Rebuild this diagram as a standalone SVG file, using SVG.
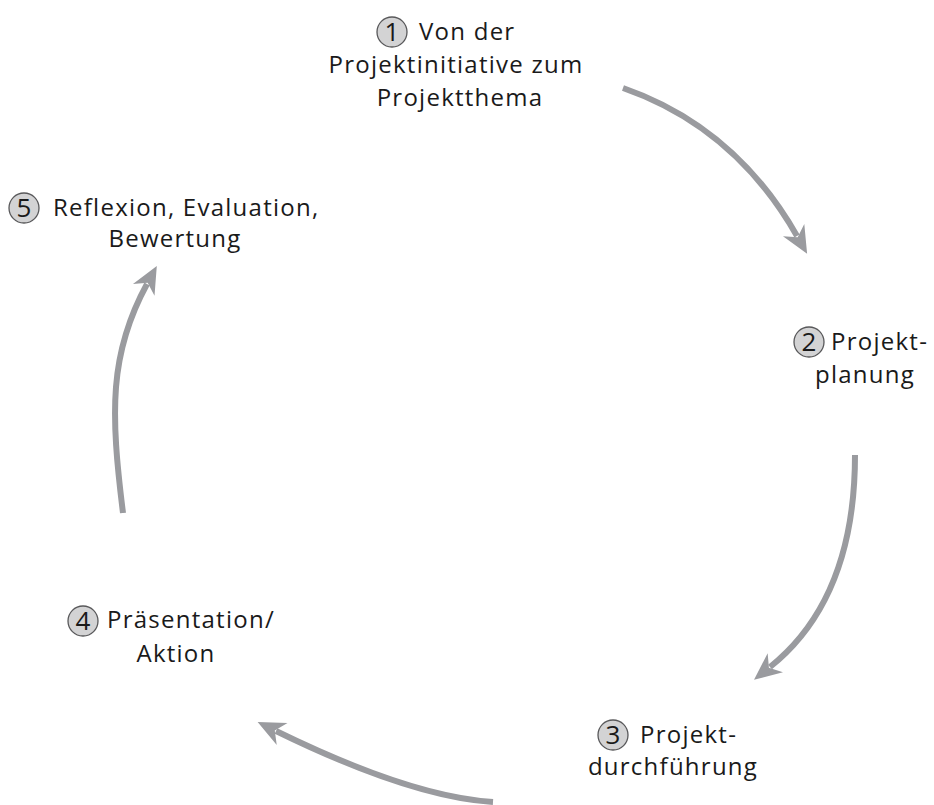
<svg xmlns="http://www.w3.org/2000/svg" width="934" height="805" viewBox="0 0 934 805">
<style>
.t{font-family:"Open Sans","Liberation Sans",sans-serif;font-size:24px;letter-spacing:1.25px;fill:#1a1a1a}
.m{text-anchor:middle}
.n{font-family:"Open Sans","Liberation Sans",sans-serif;font-size:26px;fill:#1a1a1a;text-anchor:middle}
.c{fill:#d3d3d4;stroke:#58585a;stroke-width:1.3}
.a{fill:none;stroke:#9a9b9f;stroke-width:6;stroke-linecap:butt}
</style>
<defs>
<marker id="ah" markerUnits="userSpaceOnUse" markerWidth="30" markerHeight="30" viewBox="-6 -10 22 20" refX="0" refY="0" orient="auto">
<path d="M-5,-9 L15,0 L-5,9 L1,0 Z" fill="#9a9b9f"/>
</marker>
</defs>
<g id="connectors">
<path class="a" d="M623,88 Q735,127 797,236" marker-end="url(#ah)"/>
<path class="a" d="M855,455 Q855,599 770,667" marker-end="url(#ah)"/>
<path class="a" d="M493,802 Q411,797 276,731" marker-end="url(#ah)"/>
<path class="a" d="M123,513 C110.5,413 108.8,354 147,284" marker-end="url(#ah)"/>
</g>
<g id="node1">
<circle class="c" cx="392" cy="32" r="15"/>
<text class="n" x="392" y="41">1</text>
<text class="t" x="419" y="40">Von der</text>
<text class="t m" x="456" y="73">Projektinitiative zum</text>
<text class="t m" x="460" y="106">Projektthema</text>
</g>
<g id="node2">
<circle class="c" cx="809" cy="342" r="15"/>
<text class="n" x="809" y="351">2</text>
<text class="t" x="831" y="350">Projekt-</text>
<text class="t m" x="865" y="383">planung</text>
</g>
<g id="node3">
<circle class="c" cx="613" cy="735" r="15"/>
<text class="n" x="613" y="744">3</text>
<text class="t" x="640" y="743">Projekt-</text>
<text class="t m" x="673" y="775">durchführung</text>
</g>
<g id="node4">
<circle class="c" cx="83" cy="621" r="15"/>
<text class="n" x="83" y="630">4</text>
<text class="t" x="107" y="628">Präsentation/</text>
<text class="t m" x="176" y="662">Aktion</text>
</g>
<g id="node5">
<circle class="c" cx="24" cy="208" r="15"/>
<text class="n" x="24" y="217">5</text>
<text class="t" x="53" y="216">Reflexion, Evaluation,</text>
<text class="t m" x="175" y="247">Bewertung</text>
</g>
</svg>
